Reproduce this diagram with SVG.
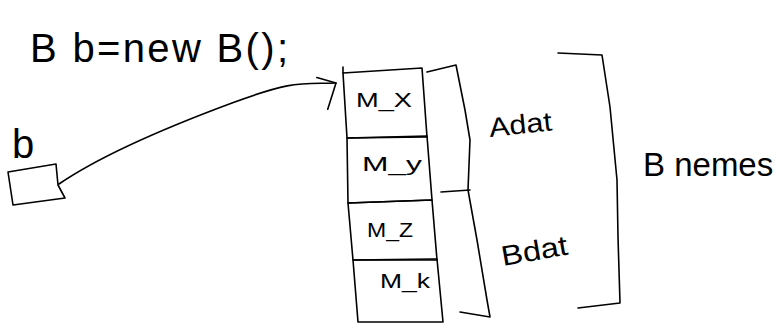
<svg xmlns="http://www.w3.org/2000/svg" width="784" height="326" viewBox="0 0 784 326">
  <defs>
    <style>
      .ink { fill: none; stroke: #000; stroke-width: 1.6; stroke-linejoin: round; stroke-linecap: round; }
      .hand { font-family: "Liberation Sans", "DejaVu Sans", sans-serif; fill: #000; }
      .cell { font-size: 21px; }
    </style>
    <marker id="openArrow" markerUnits="userSpaceOnUse" viewBox="-30 -30 40 60" refX="0" refY="0" markerWidth="40" markerHeight="60" orient="auto">
      <path d="M-19,-6 L0,0 L-9,26" fill="none" stroke="#000" stroke-width="1.6" stroke-linecap="round" stroke-linejoin="round"/>
    </marker>
  </defs>
  <rect x="0" y="0" width="784" height="326" fill="#fff"/>

  <g id="title">
    <text class="hand" x="30" y="62" font-size="40" textLength="258" lengthAdjust="spacing">B b=new B();</text>
  </g>

  <g id="var-b">
    <text class="hand" x="12" y="158" font-size="40">b</text>
    <polygon class="ink" points="8,172 56,164 58,185 65,198 13,205"/>
  </g>

  <g id="cell-mx">
    <polygon class="ink" points="343,73 422,68 427,137 347,138"/>
    <line class="ink" x1="343" y1="67" x2="343" y2="73"/>
    <text class="hand cell" x="356" y="107" textLength="56" lengthAdjust="spacingAndGlyphs">M_X</text>
  </g>
  <g id="cell-my">
    <polygon class="ink" points="347,138 427,136 432,200 348,203"/>
    <text class="hand cell" x="362" y="171" textLength="60" lengthAdjust="spacingAndGlyphs">M_y</text>
  </g>
  <g id="cell-mz">
    <polygon class="ink" points="348,203 432,200 437,260 353,260"/>
    <text class="hand cell" x="367" y="237" textLength="46" lengthAdjust="spacingAndGlyphs">M_Z</text>
  </g>
  <g id="cell-mk">
    <polygon class="ink" points="353,260 433,259 437,259 443,322 358,322"/>
    <text class="hand cell" x="380" y="288" textLength="50" lengthAdjust="spacingAndGlyphs">M_k</text>
  </g>

  <g id="bracket-parts">
    <path class="ink" d="M427,72 L456,65 L465,110 L470,140 L468,190 L477,240 L487,300 L490,317 L460,312"/>
    <path class="ink" d="M441,192 L470,190"/>
    <text class="hand" x="490" y="137" font-size="27" textLength="63" lengthAdjust="spacingAndGlyphs" transform="rotate(-6 490 137)">Adat</text>
    <text class="hand" x="503" y="266" font-size="28" textLength="67" lengthAdjust="spacingAndGlyphs" transform="rotate(-10 503 266)">Bdat</text>
  </g>

  <g id="bracket-b">
    <path class="ink" d="M558,53 L602,55 L610,107 L617,180 L618,237 L620,303 L578,308"/>
    <text class="hand" x="643" y="176" font-size="33">B nemes</text>
  </g>

  <g id="connectors">
    <path class="ink" d="M59,184 C100,156 170,126 232,103 S300,84 336,83" marker-end="url(#openArrow)"/>
  </g>
</svg>
